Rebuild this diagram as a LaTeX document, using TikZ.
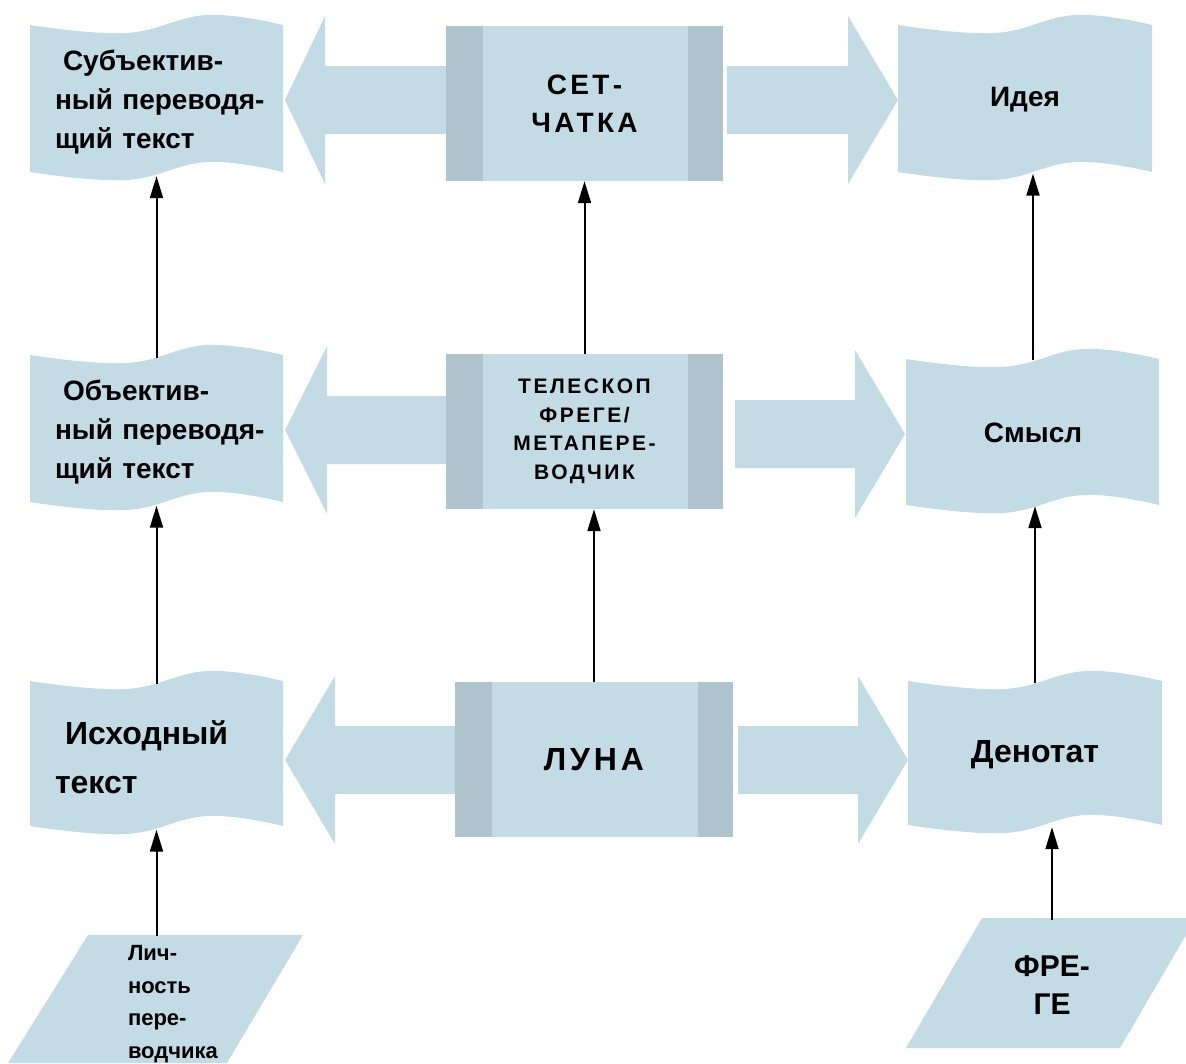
\documentclass[tikz,border=0pt]{standalone}
\usepackage{fontspec}
\setmainfont{Liberation Sans}
\newfontfamily\spaced[LetterSpace=12]{Liberation Sans}
\usetikzlibrary{arrows.meta}

\definecolor{tape}{RGB}{195,219,229}
\definecolor{strip}{RGB}{176,196,205}

\newcommand\wavebox[4]{%
  \fill[tape] plot[smooth,tension=.7] coordinates {(#1,#2) ({#1+.38*#3},{#2+8}) ({#1+.7*#3},{#2-10}) ({#1+#3},#2)}
    -- plot[smooth,tension=.7] coordinates {({#1+#3},{#2+#4}) ({#1+.7*#3},{#2+#4-10}) ({#1+.38*#3},{#2+#4+8}) (#1,{#2+#4})} -- cycle;}

\tikzset{
  tapebox/.style={minimum width=253pt,inner sep=0pt,font=\bfseries\fontsize{28}{39}\selectfont},
  procbox/.style={rectangle,fill=tape,minimum width=277pt,minimum height=155pt,inner sep=0pt,align=center,
    path picture={
      \fill[strip] (path picture bounding box.north west) rectangle ([xshift=37pt]path picture bounding box.south west);
      \fill[strip] (path picture bounding box.north east) rectangle ([xshift=-35pt]path picture bounding box.south east);}},
  thinarrow/.style={draw,line width=2pt,-{Triangle[length=22pt,width=13pt]}}
}

\begin{document}
\begin{tikzpicture}[x=1pt,y=-1pt]
\useasboundingbox (0,0) rectangle (1186,1063);

        \foreach \y/\b/\e in {100/325/500, 430/327/500, 760/335/520}
          \fill[tape] (285,\y) -- (\b,{\y-84}) -- (\b,{\y-34}) -- (\e,{\y-34})
            -- (\e,{\y+34}) -- (\b,{\y+34}) -- (\b,{\y+84}) -- cycle;
        \foreach \y/\s/\b/\t in {100/727/848/898, 434/735/855/905, 760/738/858/908}
          \fill[tape] (\s,{\y-34}) -- (\b,{\y-34}) -- (\b,{\y-84}) -- (\t,\y)
            -- (\b,{\y+84}) -- (\b,{\y+34}) -- (\s,{\y+34}) -- cycle;

        \wavebox{30}{25}{253}{147}
        \wavebox{30}{355}{253}{147}
        \wavebox{30}{681}{253}{145}
        \wavebox{898}{25}{254}{147}
        \wavebox{906}{359}{253}{146}
        \wavebox{908}{681}{254}{144}

        \fill[tape] (88,935) -- (303,935) -- (227,1063) -- (8,1063) -- cycle;
        \fill[tape] (982,918) -- (1196,918) -- (1120,1048) -- (906,1048) -- cycle;

        \begin{scope}[every node/.style={tapebox,text width=203pt,align=left}]
          \node[minimum height=147pt] (subj) at (156.5,102.5) {\hspace*{8pt}Субъектив-\\\mbox{ный переводя-}\\щий текст};
          \node[minimum height=147pt] (obj)  at (156.5,432) {\hspace*{8pt}Объектив-\\\mbox{ный переводя-}\\щий текст};
          \node[minimum height=145pt,font=\bfseries\fontsize{32}{49}\selectfont] (ish) at (156.5,757) {\hspace*{10pt}Исходный\\текст};
        \end{scope}

        \begin{scope}[every node/.style={tapebox,align=center}]
          \node[minimum height=147pt] (ideya)   at (1025,100) {Идея};
          \node[minimum height=146pt] (smysl)   at (1033,433) {Смысл};
          \node[minimum height=144pt,font=\bfseries\fontsize{32}{40}\selectfont] (denotat) at (1035,755) {Денотат};
        \end{scope}

        \begin{scope}[every node/.style={procbox}]
          \node[font=\spaced\bfseries\fontsize{28}{38}\selectfont] (setchatka) at (584.5,103.5) {СЕТ-\\ЧАТКА};
          \node[font=\spaced\bfseries\fontsize{21}{28.5}\selectfont] (teleskop) at (584.5,431.5) {ТЕЛЕСКОП\\ФРЕГЕ/\\МЕТАПЕРЕ-\\ВОДЧИК};
          \node[minimum width=278pt,font=\spaced\bfseries\fontsize{32}{40}\selectfont] (luna) at (594,759.5) {ЛУНА};
        \end{scope}

        \node[inner sep=0pt,minimum height=136pt,text width=82pt,align=left,font=\bfseries\fontsize{22}{32.5}\selectfont]
          (lich) at (169,1004) {Лич-\\ность\\пере-\\водчика};
        \node[inner sep=0pt,minimum height=130pt,align=center,font=\bfseries\fontsize{30}{38}\selectfont]
          (frege) at (1052,985) {ФРЕ-\\ГЕ};

        \begin{scope}[every edge/.style={thinarrow}]
          \path (ish.south |- lich.north) edge (ish.south);
          \path (ish.north) edge (obj.south);
          \path (obj.north) edge (subj.south);
          \path (luna.north) edge (luna.north |- teleskop.south);
          \path (teleskop.north) edge (teleskop.north |- setchatka.south);
          \path (denotat.north) edge (denotat.north |- smysl.south);
          \path (smysl.north) edge (smysl.north |- ideya.south);
          \path (frege.north) edge (frege.north |- denotat.south);
        \end{scope}

      \end{tikzpicture}
\end{document}
